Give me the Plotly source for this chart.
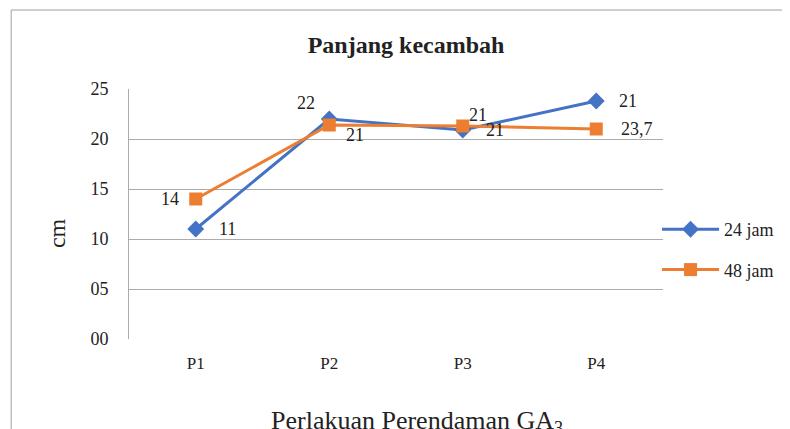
import plotly.graph_objects as go

categories = ["P1", "P2", "P3", "P4"]
jam24 = [11.0, 22.0, 20.9, 23.8]
jam48 = [14.0, 21.4, 21.3, 21.0]
labels24 = ["11", "22", "21", "21"]
labels48 = ["14", "21", "21", "23,7"]
ytick_vals = [0, 5, 10, 15, 20, 25]
ytick_text = ["00", "05", "10", "15", "20", "25"]

# label offsets (px) relative to each point
off24 = [(32, 0), (-23, 16), (32, 0), (32, 0)]
off48 = [(-26, 0), (26, -10), (15, 11), (41, 0)]

FONT = "Liberation Serif"
TXT = "#222222"
fig = go.Figure()
fig.add_trace(go.Scatter(
    x=categories, y=jam24, name="24 jam", mode="lines+markers",
    line=dict(color="#4472C4", width=3),
    marker=dict(symbol="diamond", size=13, color="#4472C4"),
    legendgroup="a"))
fig.add_trace(go.Scatter(
    x=categories, y=jam48, name="48 jam", mode="lines+markers",
    line=dict(color="#ED7D31", width=3),
    marker=dict(symbol="square", size=13, color="#ED7D31"),
    legendgroup="b"))

for xs, ys, ls, offs in [(categories, jam24, labels24, off24),
                         (categories, jam48, labels48, off48)]:
    for c, v, t, (dx, dy) in zip(xs, ys, ls, offs):
        fig.add_annotation(x=c, y=v, text=t, showarrow=False,
                           xanchor="center", yanchor="middle",
                           xshift=dx, yshift=dy,
                           font=dict(family=FONT, size=18, color=TXT))

fig.update_layout(
    width=782, height=421,
    margin=dict(l=121, r=126, t=81, b=90),
    paper_bgcolor="white", plot_bgcolor="white",
    font=dict(family=FONT, color=TXT),
    title=dict(text="<b>Panjang kecambah</b>", x=0.509, xanchor="center",
               y=0.912, yanchor="middle", font=dict(size=24, family=FONT, color=TXT)),
    showlegend=True,
    legend=dict(x=0.987, xanchor="left", y=0.512, yanchor="top",
                font=dict(size=18, family=FONT, color=TXT), tracegroupgap=14,
                traceorder="grouped", bgcolor="rgba(0,0,0,0)", itemwidth=57),
    xaxis=dict(type="category", range=[-0.5, 3.5], showgrid=False,
               tickfont=dict(size=17, family=FONT, color=TXT), ticks="",
               showline=False, zeroline=False, ticklabelstandoff=12),
    yaxis=dict(range=[0, 25], tickvals=ytick_vals, ticktext=ytick_text,
               showgrid=True, gridcolor="#ababab", gridwidth=1,
               tickfont=dict(size=18, family=FONT, color=TXT), ticks="",
               showline=True, linecolor="#ababab", linewidth=1,
               zeroline=False, ticklabelstandoff=16),
)
fig.add_annotation(text="cm", xref="paper", yref="paper", x=-0.1346, y=0.424,
                   xanchor="center", yanchor="middle",
                   textangle=-90, showarrow=False,
                   font=dict(size=24, family=FONT, color=TXT))
fig.add_annotation(text="Perlakuan Perendaman GA<sub>3</sub>", xref="paper", yref="paper",
                   x=0.54, y=-0.332, xanchor="center", yanchor="middle", showarrow=False,
                   font=dict(size=26, family=FONT, color=TXT))
fig.add_shape(type="rect", xref="paper", yref="paper",
              x0=-0.2206, x1=1.5, y0=-1.0, y1=1.316,
              line=dict(color="#a0a0a0", width=1))
fig.write_html("out.html")
